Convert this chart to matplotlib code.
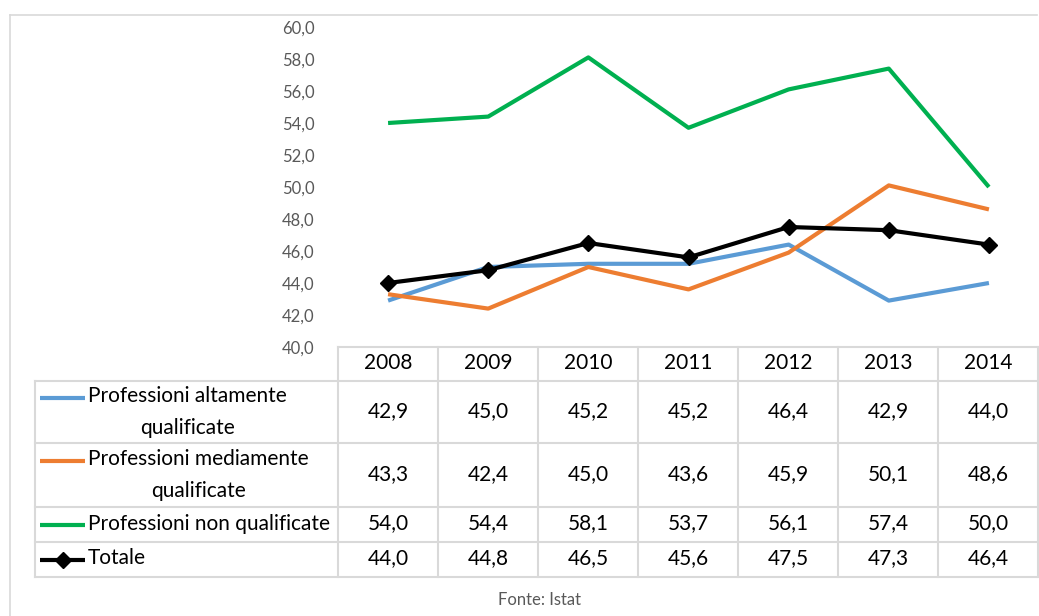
import matplotlib
matplotlib.use("Agg")
import matplotlib.pyplot as plt
from matplotlib.lines import Line2D

plt.rcParams["font.family"] = ["Lato", "DejaVu Sans"]

# ---- data ----
years = ["2008", "2009", "2010", "2011", "2012", "2013", "2014"]
alta = [42.9, 45.0, 45.2, 45.2, 46.4, 42.9, 44.0]
media = [43.3, 42.4, 45.0, 43.6, 45.9, 50.1, 48.6]
non_qual = [54.0, 54.4, 58.1, 53.7, 56.1, 57.4, 50.0]
totale = [44.0, 44.8, 46.5, 45.6, 47.5, 47.3, 46.4]

labels = ["Professioni altamente\nqualificate",
          "Professioni mediamente\nqualificate",
          "Professioni non qualificate",
          "Totale"]
colors = ["#5B9BD5", "#ED7D31", "#00B050", "#000000"]
series = [alta, media, non_qual, totale]

W, H = 1039, 616
fig = plt.figure(figsize=(W / 100, H / 100), dpi=100)


def fx(px):
    return px / W


def fy(py):
    return 1 - py / H


# chart border
fig.add_artist(Line2D([fx(9.5), fx(1037)], [fy(14.5), fy(14.5)], color="#D9D9D9", lw=1.2))
fig.add_artist(Line2D([fx(9.5), fx(9.5)], [fy(14.5), fy(616)], color="#D9D9D9", lw=1.2))

# ---- line plot ----
ax = fig.add_axes([fx(338), fy(347), fx(1039) - fx(338), fy(27) - fy(347)])
x = list(range(len(years)))
for vals, c, lab in zip(series, colors, labels):
    if lab == "Totale":
        ax.plot(x, vals, color=c, lw=3, marker="D", ms=8, zorder=4)
    else:
        ax.plot(x, vals, color=c, lw=3, zorder=3, solid_capstyle="butt")
ax.set_xlim(-0.5, len(years) - 0.5)
ax.set_ylim(40, 60)
ax.set_yticks(range(40, 61, 2))
ax.set_yticklabels([f"{v:.1f}".replace(".", ",") for v in range(40, 61, 2)])
ax.tick_params(axis="y", length=0, labelsize=12, labelcolor="#595959", pad=17)
ax.set_xticks([])
for s in ax.spines.values():
    s.set_visible(False)

# ---- data table ----
tb = fig.add_axes([0, 0, 1, 1])
tb.set_xlim(0, W)
tb.set_ylim(H, 0)
tb.axis("off")

grid_c = "#D9D9D9"
col_edges = [338 + 100 * i for i in range(len(years) + 1)]
col_edges[-1] = 1038
row_edges = [347, 381, 443, 507, 542, 577]

# horizontal lines
tb.plot([338, 1038], [347, 347], color=grid_c, lw=1.5)
for yy in row_edges[1:]:
    tb.plot([35, 1038], [yy, yy], color=grid_c, lw=1.5)
# vertical lines
tb.plot([35, 35], [381, 577], color=grid_c, lw=1.5)
for xx in col_edges:
    tb.plot([xx, xx], [347, 577], color=grid_c, lw=1.5)

fs = 15
for i, yr in enumerate(years):
    tb.text(388 + 100 * i, 363, yr, ha="center", va="center", fontsize=fs)

for r, (vals, c, lab) in enumerate(zip(series, colors, labels)):
    ymid = (row_edges[r + 1] + row_edges[r + 2]) / 2
    for i, v in enumerate(vals):
        tb.text(388 + 100 * i, ymid - 1, f"{v:.1f}".replace(".", ","),
                ha="center", va="center", fontsize=fs)
    two = "\n" in lab
    ykey = ymid - 14.5 if two else ymid
    tb.plot([40, 85], [ykey, ykey], color=c, lw=3, solid_capstyle="butt")
    if lab == "Totale":
        tb.plot([62.5], [ykey], marker="D", color=c, ms=8)
    tb.text(88, ymid if two else ymid - 1, lab, ha="left", va="center", fontsize=fs,
            multialignment="center", linespacing=1.7)

fig.text(fx(539), fy(600), "Fonte: Istat", ha="center", va="center",
         fontsize=12, color="#595959")

fig.savefig("out.png", dpi=100)
